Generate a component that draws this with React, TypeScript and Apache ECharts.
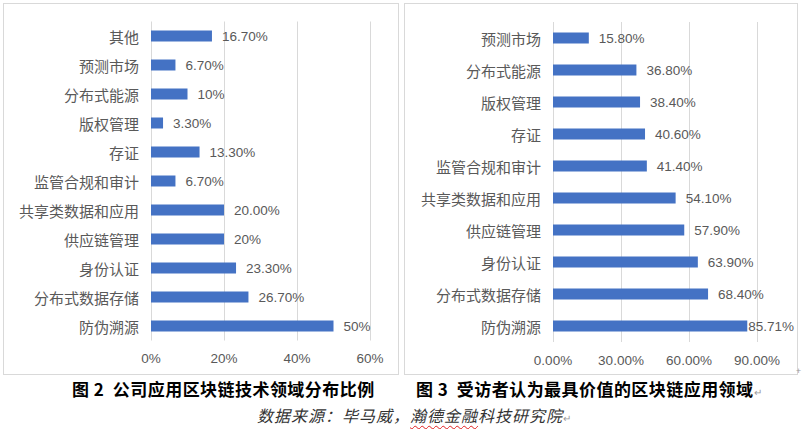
import React, { useEffect, useRef } from "react";
import * as echarts from "echarts";

// 图2 公司应用区块链技术领域分布比例
const leftCategories = [
  "其他",
  "预测市场",
  "分布式能源",
  "版权管理",
  "存证",
  "监管合规和审计",
  "共享类数据和应用",
  "供应链管理",
  "身份认证",
  "分布式数据存储",
  "防伪溯源",
];
const leftValues = [16.7, 6.7, 10, 3.3, 13.3, 6.7, 20, 20, 23.3, 26.7, 50];
const leftLabels = [
  "16.70%",
  "6.70%",
  "10%",
  "3.30%",
  "13.30%",
  "6.70%",
  "20.00%",
  "20%",
  "23.30%",
  "26.70%",
  "50%",
];
const leftTicks = { min: 0, max: 60, interval: 20 };

// 图3 受访者认为最具价值的区块链应用领域
const rightCategories = [
  "预测市场",
  "分布式能源",
  "版权管理",
  "存证",
  "监管合规和审计",
  "共享类数据和应用",
  "供应链管理",
  "身份认证",
  "分布式数据存储",
  "防伪溯源",
];
const rightValues = [15.8, 36.8, 38.4, 40.6, 41.4, 54.1, 57.9, 63.9, 68.4, 85.71];
const rightTicks = { min: 0, max: 90, interval: 30 };

const NUM_FONT = '"Liberation Sans", Arial, sans-serif';
const CJK_FONT = '"Noto Sans CJK SC", sans-serif';

type BarProps = {
  categories: string[];
  values: number[];
  labels: string[];
  ticks: { min: number; max: number; interval: number };
  tickFormat: (v: number) => string;
  grid: { left: number; top: number; width: number; height: number };
  width: number;
  height: number;
};

const BarChart: React.FC<BarProps> = ({
  categories,
  values,
  labels,
  ticks,
  tickFormat,
  grid,
  width,
  height,
}) => {
  const chartRef = useRef<HTMLDivElement>(null);

  useEffect(() => {
    if (!chartRef.current) return;
    const chart = echarts.init(chartRef.current, undefined, { renderer: "svg" });

    // a bar close to the axis max would push its label out of the box,
    // so that label hugs the bar end (as Excel does)
    const data = values.map((v, i) => ({
      value: v,
      label: {
        formatter: labels[i],
        distance: v > ticks.max * 0.9 ? 1 : 10,
      },
    }));

    chart.setOption({
      animation: false,
      grid: { ...grid, containLabel: false },
      xAxis: {
        type: "value",
        ...ticks,
        axisLine: { show: false },
        axisTick: { show: false },
        splitLine: { lineStyle: { color: "#d9d9d9", width: 1 } },
        axisLabel: {
          color: "#595959",
          fontSize: 13.5,
          fontFamily: NUM_FONT,
          margin: 11,
          formatter: tickFormat,
        },
      },
      yAxis: {
        type: "category",
        inverse: true,
        data: categories,
        axisLine: { show: false },
        axisTick: { show: false },
        axisLabel: {
          color: "#595959",
          fontSize: 15,
          fontFamily: CJK_FONT,
          margin: 12,
        },
      },
      series: [
        {
          type: "bar",
          barWidth: 11,
          itemStyle: { color: "#4472c4" },
          label: {
            show: true,
            position: "right",
            color: "#595959",
            fontSize: 13.5,
            fontFamily: NUM_FONT,
          },
          data,
        },
      ],
    });

    return () => {
      chart.dispose();
    };
  }, []);

  return <div ref={chartRef} style={{ width, height }} />;
};

const returnMark = (
  <span style={{ color: "#9a9a9a", fontSize: 10, fontWeight: 400, fontStyle: "normal", letterSpacing: 0 }}>
    ↵
  </span>
);

const captionStyle: React.CSSProperties = {
  position: "absolute",
  top: 378,
  fontSize: 17,
  fontWeight: 700,
  color: "#000",
  whiteSpace: "nowrap",
  lineHeight: "22px",
  letterSpacing: 0.45,
};

const App: React.FC = () => {
  return (
    <div
      style={{
        position: "absolute",
        left: 0,
        top: 0,
        width: 803,
        height: 429,
        background: "#ffffff",
        overflow: "hidden",
        fontFamily: CJK_FONT,
      }}
    >
      <div
        style={{
          position: "absolute",
          left: 3,
          top: 3,
          width: 394,
          height: 370,
          border: "1px solid #d9d9d9",
        }}
      >
        <BarChart
          categories={leftCategories}
          values={leftValues}
          labels={leftLabels}
          ticks={leftTicks}
          tickFormat={(v: number) => `${v}%`}
          grid={{ left: 147, top: 17.5, width: 219, height: 319 }}
          width={394}
          height={370}
        />
      </div>
      <div
        style={{
          position: "absolute",
          left: 404,
          top: 3,
          width: 392,
          height: 370,
          border: "1px solid #d9d9d9",
        }}
      >
        <BarChart
          categories={rightCategories}
          values={rightValues}
          labels={rightValues.map((v) => `${v.toFixed(2)}%`)}
          ticks={rightTicks}
          tickFormat={(v: number) => `${v.toFixed(2)}%`}
          grid={{ left: 148, top: 18, width: 204, height: 320 }}
          width={392}
          height={370}
        />
      </div>

      <div style={{ ...captionStyle, left: 72 }}>
        图 2&nbsp; 公司应用区块链技术领域分布比例
      </div>
      <div style={{ ...captionStyle, left: 416 }}>
        图 3&nbsp; 受访者认为最具价值的区块链应用领域{returnMark}
      </div>
      <div
        style={{
          position: "absolute",
          left: 796,
          top: 366,
          fontSize: 9,
          color: "#9a9a9a",
          lineHeight: "10px",
        }}
      >
        +
      </div>
      <div
        style={{
          position: "absolute",
          left: 257,
          top: 405,
          fontSize: 16,
          fontStyle: "italic",
          color: "#333333",
          whiteSpace: "nowrap",
          lineHeight: "20px",
          letterSpacing: 1,
        }}
      >
        数据来源：毕马威，
        <span
          style={{
            textDecoration: "underline wavy #e02020",
            textUnderlineOffset: 3,
            textDecorationThickness: 1,
          }}
        >
          瀚德金融
        </span>
        科技研究院{returnMark}
      </div>
    </div>
  );
};

export default App;
